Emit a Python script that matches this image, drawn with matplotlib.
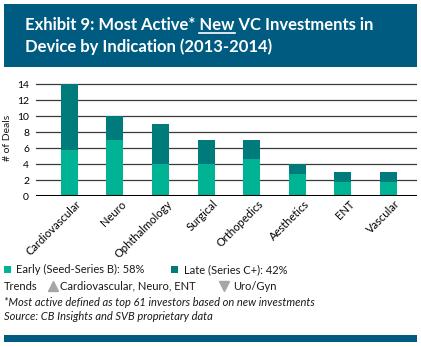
import matplotlib
matplotlib.use('Agg')
import matplotlib.pyplot as plt
from matplotlib.patches import Rectangle
from matplotlib.lines import Line2D
from matplotlib.transforms import ScaledTranslation

plt.rcParams['font.family'] = ['Lato', 'DejaVu Sans']

indications = ['Cardiovascular', 'Neuro', 'Ophthalmology', 'Surgical',
               'Orthopedics', 'Aesthetics', 'ENT', 'Vascular']
early = [5.8, 7, 4, 4, 4.7, 2.8, 1.8, 1.8]
total = [14, 10, 9, 7, 7, 4, 3, 3]
late = [t - e for t, e in zip(total, early)]
yticks = [0, 2, 4, 6, 8, 10, 12, 14]

NAVY = '#005b80'
EARLY_C = '#00b394'
LATE_C = '#007b7b'

fig = plt.figure(figsize=(4.21, 3.47), dpi=100)
W, H = 421, 347

def fx(px):
    return px / W

def fy(py):
    return 1 - py / H

# header band
fig.patches.append(Rectangle((fx(4), fy(67)), fx(413), 63 / H, transform=fig.transFigure,
                             facecolor=NAVY, edgecolor='none'))
# bottom rule
fig.patches.append(Rectangle((fx(4), fy(342)), fx(413), 7 / H, transform=fig.transFigure,
                             facecolor=NAVY, edgecolor='none'))

# title; "New" gets underlined using measured text widths
tkw = dict(color='white', fontsize=12, fontweight='bold', va='baseline')
renderer = fig.canvas.get_renderer()
line1 = 'Exhibit 9: Most Active* New VC Investments in'
x0, y1 = fx(25), fy(30)
fig.text(x0, y1, line1, **tkw)

def width_of(s):
    t = fig.text(0, 0, s, **tkw)
    w = t.get_window_extent(renderer).width
    t.remove()
    return w / W

u0 = x0 + width_of('Exhibit 9: Most Active* ')
u1 = x0 + width_of('Exhibit 9: Most Active* New')
fig.add_artist(Line2D([u0, u1], [y1 - 2.5 / H, y1 - 2.5 / H], transform=fig.transFigure,
                      color='white', lw=1.2))
fig.text(x0, fy(52), 'Device by Indication (2013-2014)', **tkw)

# chart
zero_px, unit_px = 196.3, 8.0
ytop = 14.2
ax = fig.add_axes([fx(36), fy(zero_px), fx(381), ytop * unit_px / H])
pos = range(len(indications))
ax.bar(pos, early, width=0.37, color=EARLY_C, zorder=2)
ax.bar(pos, late, bottom=early, width=0.37, color=LATE_C, zorder=2)
for v in yticks[1:]:
    ax.axhline(v, color='#3a3a3a', lw=0.9, zorder=1)
ax.axhline(0, color='black', lw=2.2, zorder=3)
ax.set_xlim(-0.73, 7.625)
ax.set_ylim(0, ytop)
ax.set_yticks(yticks)
ax.tick_params(axis='y', length=0, pad=5, labelsize=7.5)
ax.set_xticks(list(pos))
ax.set_xticklabels(indications, rotation=45, ha='right', va='top',
                   rotation_mode='anchor', fontsize=8)
ax.tick_params(axis='x', length=0, pad=0)
shift = ScaledTranslation(6 / 100, -2 / 100, fig.dpi_scale_trans)
for lab in ax.get_xticklabels():
    lab.set_transform(lab.get_transform() + shift)
for sp in ax.spines.values():
    sp.set_visible(False)
fig.text(fx(8), fy(138), '# of Deals', rotation=90, ha='center', va='center',
         fontsize=7.5, color='#1a1a1a')

# legend rows
fkw = dict(fontsize=8, color='#1a1a1a', va='center')
fig.patches.append(Rectangle((fx(4), fy(273)), fx(7), 7 / H, transform=fig.transFigure,
                             facecolor=EARLY_C, edgecolor='none'))
fig.text(fx(16), fy(269.5), 'Early (Seed-Series B): 58%', **fkw)
fig.patches.append(Rectangle((fx(171), fy(273)), fx(7), 7 / H, transform=fig.transFigure,
                             facecolor=LATE_C, edgecolor='none'))
fig.text(fx(184), fy(269.5), 'Late (Series C+): 42%', **fkw)

fig.text(fx(4), fy(286), 'Trends', **fkw)
fig.add_artist(Line2D([fx(53)], [fy(285.5)], marker='^', markersize=6.5, color='#a6a6a6',
                      transform=fig.transFigure, linestyle='none'))
fig.text(fx(60), fy(286), 'Cardiovascular, Neuro, ENT', **fkw)
fig.add_artist(Line2D([fx(224)], [fy(285.5)], marker='v', markersize=6.5, color='#a6a6a6',
                      transform=fig.transFigure, linestyle='none'))
fig.text(fx(233), fy(286), 'Uro/Gyn', **fkw)

fig.text(fx(4), fy(302), '*Most active defined as top 61 investors based on new investments',
         style='italic', **fkw)
fig.text(fx(4), fy(317), 'Source: CB Insights and SVB proprietary data', style='italic', **fkw)

fig.savefig('out.png', dpi=100, facecolor='white')
